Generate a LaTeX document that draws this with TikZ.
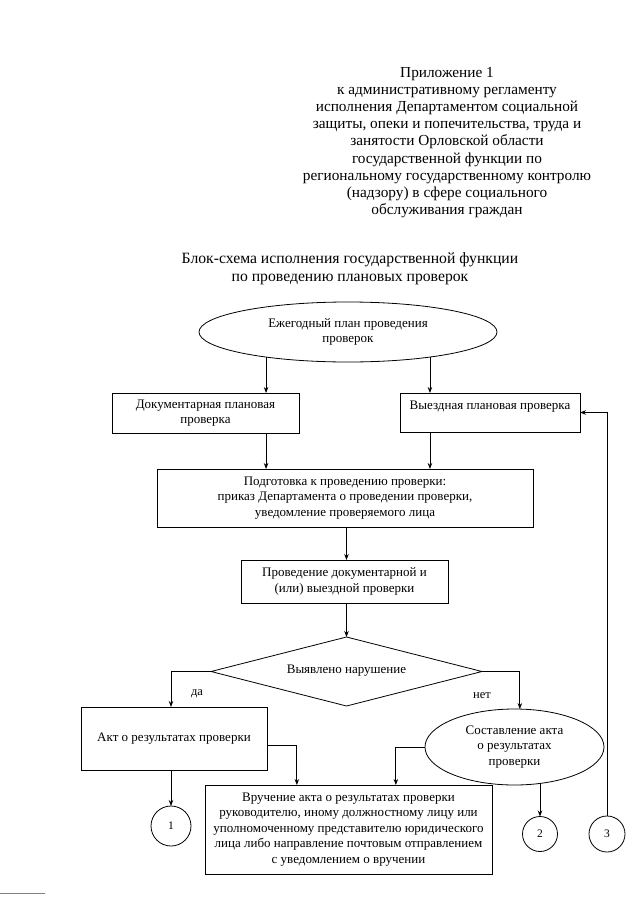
\documentclass[tikz,border=0pt]{standalone}
\usepackage{fontspec}
\setmainfont{Liberation Serif}
\usetikzlibrary{shapes.geometric,arrows.meta,calc}
\begin{document}
\begin{tikzpicture}[x=1pt,y=-1pt,
  every node/.style={inner sep=0pt, outer sep=0pt},
  arr/.style={line width=0.8pt,-{Stealth[length=6pt,width=4.5pt]}},
  boxtext/.style={font=\fontsize{13}{15.5}\selectfont, align=center},
  rbox/.style={draw, line width=0.8pt, rectangle, boxtext},
  ebox/.style={draw, line width=0.8pt, ellipse, boxtext},
  dbox/.style={draw, line width=0.8pt, diamond, aspect=3.9, boxtext},
  cbox/.style={draw, line width=0.8pt, circle, font=\fontsize{11.5}{13}\selectfont},
  lbl/.style={font=\fontsize{12.5}{14}\selectfont}
]
\useasboundingbox (0,0) rectangle (640,905);

\node[align=center, font=\fontsize{15.3}{17.1}\selectfont] (hdr) at (447,142.5)
  {Приложение 1\\к административному регламенту\\исполнения Департаментом социальной\\защиты, опеки и попечительства, труда и\\занятости Орловской области\\государственной функции по\\региональному государственному контролю\\(надзору) в сфере социального\\обслуживания граждан};

\node[align=center, font=\fontsize{15.7}{18}\selectfont] (ttl) at (350,269)
  {Блок-схема исполнения государственной функции\\по проведению плановых проверок};

\node[ebox, minimum width=298pt, minimum height=60pt] (e1) at (348,332) {Ежегодный план проведения\\проверок};
\node[rbox, minimum width=187pt, minimum height=40pt] (b1) at (205.5,413) {Документарная плановая\\проверка};
\node[rbox, minimum width=180pt, minimum height=39pt] (b2) at (490,412.5) {Выездная плановая проверка\\\mbox{}};
\node[rbox, minimum width=376pt, minimum height=58pt] (prep) at (345,498) {Подготовка к проведению проверки:\\приказ Департамента о проведении проверки,\\уведомление проверяемого лица};
\node[rbox, minimum width=207pt, minimum height=43pt] (run) at (344.5,581.5) {Проведение документарной и\\(или) выездной проверки};
\node[dbox, minimum width=271pt, minimum height=69pt] (dia) at (346.5,671.5) {\raisebox{5pt}{Выявлено нарушение}};
\node[rbox, minimum width=186pt, minimum height=63pt] (akt) at (174,738.5) {Акт о результатах проверки};
\node[ebox, minimum width=179pt, minimum height=76pt] (e2) at (514.5,747) {Составление акта\\о результатах\\проверки};
\node[rbox, minimum width=287pt, minimum height=89pt] (vr) at (348.5,829.5) {Вручение акта о результатах проверки\\руководителю, иному должностному лицу или\\уполномоченному представителю юридического\\лица либо направление почтовым отправлением\\с уведомлением о вручении};
\node[cbox, minimum size=40pt] (c1) at (171,826) {1};
\node[cbox, minimum size=35pt] (c2) at (540,834) {2};
\node[cbox, minimum size=36pt] (c3) at (607,834) {3};

\node[lbl] (da) at (197,694) {да};
\node[lbl] (net) at (482,696) {нет};

\draw[arr] (e1.197) -- (e1.197 |- b1.north);
\draw[arr] (e1.343) -- (e1.343 |- b2.north);
\draw[arr] (e1.197 |- b1.south) -- (e1.197 |- prep.north);
\draw[arr] (e1.343 |- b2.south) -- (e1.343 |- prep.north);
\draw[arr] (prep.south -| dia.north) -- (run.north -| dia.north);
\draw[arr] (run.south -| dia.north) -- (dia.north);
\draw[arr] (dia.west) -| (akt.north -| c1.north);
\draw[arr] (dia.east) -| (e2.82);
\draw[arr] ($(akt.east)+(0,6.5)$) -| ($(vr.north west)!0.32!(vr.north east)$);
\draw[arr] (e2.west) -| ($(vr.north west)!0.665!(vr.north east)$);
\draw[arr] (c1.north |- akt.south) -- (c1.north);
\draw[arr] (e2.305) -- (e2.305 |- c2.north);
\draw[arr] (c3.north) |- (b2.east);

\draw[gray, line width=1pt] (0,893) -- (45,893);
\end{tikzpicture}
\end{document}
